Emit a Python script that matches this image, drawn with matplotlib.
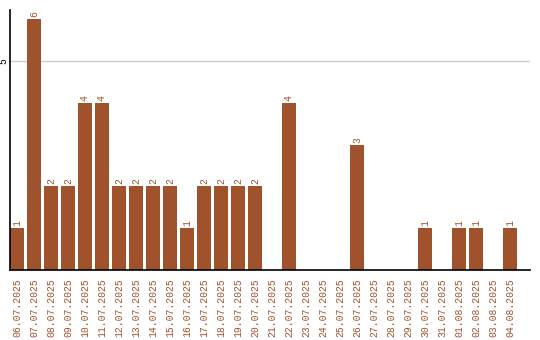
import matplotlib
matplotlib.use("Agg")
import matplotlib.pyplot as plt

dates = ["06.07.2025", "07.07.2025", "08.07.2025", "09.07.2025", "10.07.2025",
         "11.07.2025", "12.07.2025", "13.07.2025", "14.07.2025", "15.07.2025",
         "16.07.2025", "17.07.2025", "18.07.2025", "19.07.2025", "20.07.2025",
         "21.07.2025", "22.07.2025", "23.07.2025", "24.07.2025", "25.07.2025",
         "26.07.2025", "27.07.2025", "28.07.2025", "29.07.2025", "30.07.2025",
         "31.07.2025", "01.08.2025", "02.08.2025", "03.08.2025", "04.08.2025"]
counts = [1, 6, 2, 2, 4, 4, 2, 2, 2, 2, 1, 2, 2, 2, 2,
          0, 4, 0, 0, 0, 3, 0, 0, 0, 1, 0, 1, 1, 0, 1]

brown = "#A0522D"
font = "Liberation Mono"

fig = plt.figure(figsize=(5.4, 3.4), dpi=100)
ax = fig.add_axes([10 / 540, 70 / 340, 520 / 540, 260 / 340])

x = list(range(len(dates)))
ax.bar(x, counts, width=0.82, color=brown, zorder=2)
for xi, v in zip(x, counts):
    if v > 0:
        ax.text(xi, v + 0.05, str(v), rotation=90, ha="center", va="bottom",
                color=brown, fontsize=7, family=font)

ax.set_xlim(-0.41, 30.18)
ax.set_ylim(0, 6.22)
ax.set_yticks([5])
ax.set_yticklabels(["5"], rotation=90, va="center", fontsize=7, family=font)
ax.tick_params(axis="y", length=0, pad=1)
ax.grid(axis="y", color="#cccccc", linewidth=1, zorder=0)

ax.set_xticks(x)
ax.set_xticklabels(dates, rotation=90, fontsize=7, family=font, color=brown)
ax.tick_params(axis="x", length=0, pad=6)

for s in ("top", "right"):
    ax.spines[s].set_visible(False)
for s in ("left", "bottom"):
    ax.spines[s].set_color("black")
    ax.spines[s].set_linewidth(1.2)

fig.savefig("out.png", dpi=100)
